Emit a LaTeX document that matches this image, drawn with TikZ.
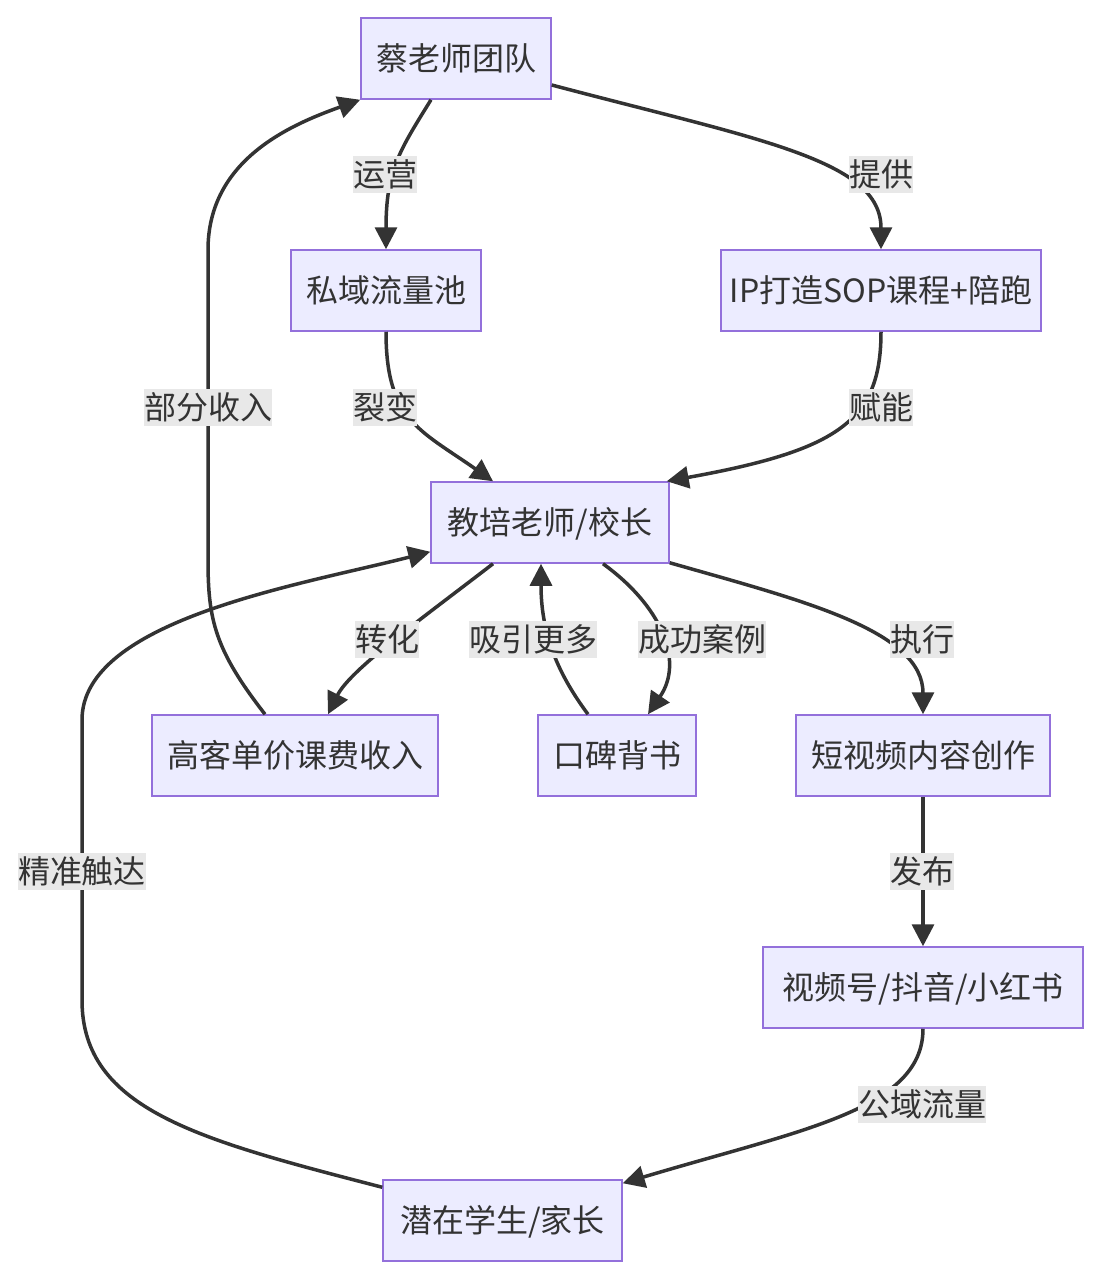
\documentclass[tikz,border=0pt]{standalone}
\usepackage{fontspec}
\newfontfamily\cjk{Noto Sans CJK SC}
\usetikzlibrary{arrows.meta, calc}
\definecolor{cfill}{HTML}{ECECFF}
\definecolor{cborder}{HTML}{9370DB}
\definecolor{cedge}{HTML}{333333}
\definecolor{clabel}{HTML}{E8E8E8}
\tikzset{
  every picture/.style={line width=1.5pt},
  box/.style={draw=cborder, fill=cfill, text=cedge, minimum width=#1, minimum height=81pt, inner xsep=0pt,
    font=\cjk\fontsize{32}{38}\selectfont, text height=28pt, text depth=4pt},
  box/.default=190pt,
  arrow/.style={-{Triangle[length=22pt,width=22pt]}, draw=cedge, line width=3.5pt},
  lbl/.style={fill=clabel, text=cedge, inner xsep=0pt, inner ysep=2.5pt,
    font=\cjk\fontsize{32}{38}\selectfont, text height=28pt, text depth=4pt},
}

\begin{document}
\begin{tikzpicture}[x=1pt, y=-1pt]
  \useasboundingbox (0,0) rectangle (1100,1278);
  % boxes
  \node[box=190pt] (cai) at (456,58.5) {蔡老师团队};
  \node[box=190pt] (siyu) at (386,290.5) {私域流量池};
  \node[box=320pt] (ip) at (881,290.5) {IP打造SOP课程+陪跑};
  \node[box=238pt] (jp) at (550,522.5) {教培老师/校长};
  \node[box=286pt] (gao) at (295,755.5) {高客单价课费收入};
  \node[box=158pt] (kb) at (617,755.5) {口碑背书};
  \node[box=254pt] (dsp) at (923,755.5) {短视频内容创作};
  \node[box=320pt] (sph) at (923,987.5) {视频号/抖音/小红书};
  \node[box=239pt] (qz) at (502.5,1220.5) {潜在学生/家长};
  % connectors
  \draw[arrow] ($(cai.south)+(-25,0)$) .. controls (400,150) and (386,170) .. (siyu.north);
  \draw[arrow] ($(cai.east)+(0,26.5)$) .. controls (760,140) and (881,160) .. (ip.north);
  \draw[arrow] (siyu.south) .. controls (386,420) and (420,430) .. ($(jp.north)+(-57,0)$);
  \draw[arrow] (ip.south) .. controls (881,420) and (840,450) .. ($(jp.north east)+(-3,0)$);
  \draw[arrow] ($(jp.south)+(-57,0)$) .. controls (420,620) and (350,670) .. ($(gao.north)+(33,0)$);
  \draw[arrow] ($(gao.north)+(-30,0)$) .. controls (215,650) and (208,620) .. (208,560) -- (208,250)
    .. controls (208,160) and (290,125) .. (cai.south west);
  \draw[arrow] ($(kb.north)+(-29,0)$) .. controls (555,670) and (541,630) .. ($(jp.south)+(-9,0)$);
  \draw[arrow] ($(jp.south)+(53,0)$) .. controls (660,605) and (685,660) .. ($(kb.north)+(31,0)$);
  \draw[arrow] ($(jp.south east)+(0,-1)$) .. controls (800,600) and (923,630) .. (dsp.north);
  \draw[arrow] (dsp) -- (sph);
  \draw[arrow] (sph.south) .. controls (923,1110) and (800,1130) .. ($(qz.north east)+(0,4)$);
  \draw[arrow] ($(qz.north west)+(0,8)$) .. controls (200,1140) and (82,1110) .. (82,1000) -- (82,720)
    .. controls (82,620) and (300,585) .. ($(jp.south west)+(0,-12)$);
  % edge labels
  \foreach \t/\p [count=\i] in {运营/{385,174}, 提供/{881,174}, 裂变/{385,407}, 赋能/{881,407},
      部分收入/{208,407}, 转化/{387,639}, 吸引更多/{533,639}, 成功案例/{702,639}, 执行/{922,639},
      发布/{922,871}, 公域流量/{922,1104}, 精准触达/{82,871}}
    \node[lbl] (l\i) at (\p) {\t};
\end{tikzpicture}
\end{document}
